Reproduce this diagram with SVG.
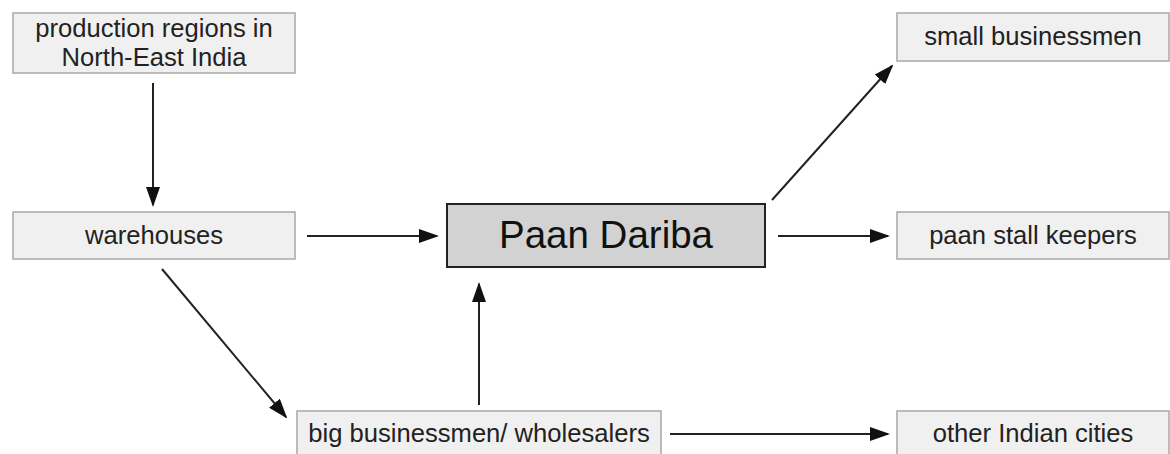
<svg xmlns="http://www.w3.org/2000/svg" width="1170" height="454" viewBox="0 0 1170 454">
<style>
.box{fill:#f0f0f0;stroke:#a8a8a8;stroke-width:1.5}
.main{fill:#d2d2d2;stroke:#222;stroke-width:2}
.t{font-family:"Liberation Sans",Arial,sans-serif;font-size:25.6px;fill:#222;text-anchor:middle}
.tm{font-family:"Liberation Sans",Arial,sans-serif;font-size:38.5px;fill:#111;text-anchor:middle}
.c{stroke:#222;stroke-width:2;fill:none;marker-end:url(#ah)}
</style>
<defs>
<marker id="ah" markerWidth="20" markerHeight="14" refX="18" refY="7" orient="auto" markerUnits="userSpaceOnUse">
<path d="M0,0 L20,7 L0,14 Z" fill="#111"/>
</marker>
</defs>
<rect width="1170" height="454" fill="#fff"/>
<g id="connectors">
<line class="c" x1="153" y1="83" x2="153" y2="205"/>
<line class="c" x1="307" y1="236" x2="437" y2="236"/>
<line class="c" x1="162" y1="269" x2="286" y2="417"/>
<line class="c" x1="479" y1="405" x2="479" y2="284"/>
<line class="c" x1="772" y1="200" x2="892" y2="66"/>
<line class="c" x1="778" y1="236" x2="888" y2="236"/>
<line class="c" x1="670" y1="434" x2="888" y2="434"/>
</g>
<g id="production">
<rect class="box" x="13" y="13" width="282" height="60"/>
<text class="t" x="154" y="37">production regions in</text>
<text class="t" x="154" y="66">North-East India</text>
</g>
<g id="warehouses">
<rect class="box" x="13" y="212" width="282" height="47"/>
<text class="t" x="154" y="244">warehouses</text>
</g>
<g id="paan-dariba">
<rect class="main" x="447" y="204" width="318" height="63"/>
<text class="tm" x="606" y="248">Paan Dariba</text>
</g>
<g id="small-businessmen">
<rect class="box" x="897" y="13" width="272" height="48"/>
<text class="t" x="1033" y="45">small businessmen</text>
</g>
<g id="paan-stall-keepers">
<rect class="box" x="897" y="212" width="272" height="47"/>
<text class="t" x="1033" y="244">paan stall keepers</text>
</g>
<g id="big-businessmen">
<rect class="box" x="297" y="411" width="364" height="50"/>
<text class="t" x="479" y="442">big businessmen/ wholesalers</text>
</g>
<g id="other-cities">
<rect class="box" x="897" y="411" width="272" height="50"/>
<text class="t" x="1033" y="442">other Indian cities</text>
</g>
</svg>
